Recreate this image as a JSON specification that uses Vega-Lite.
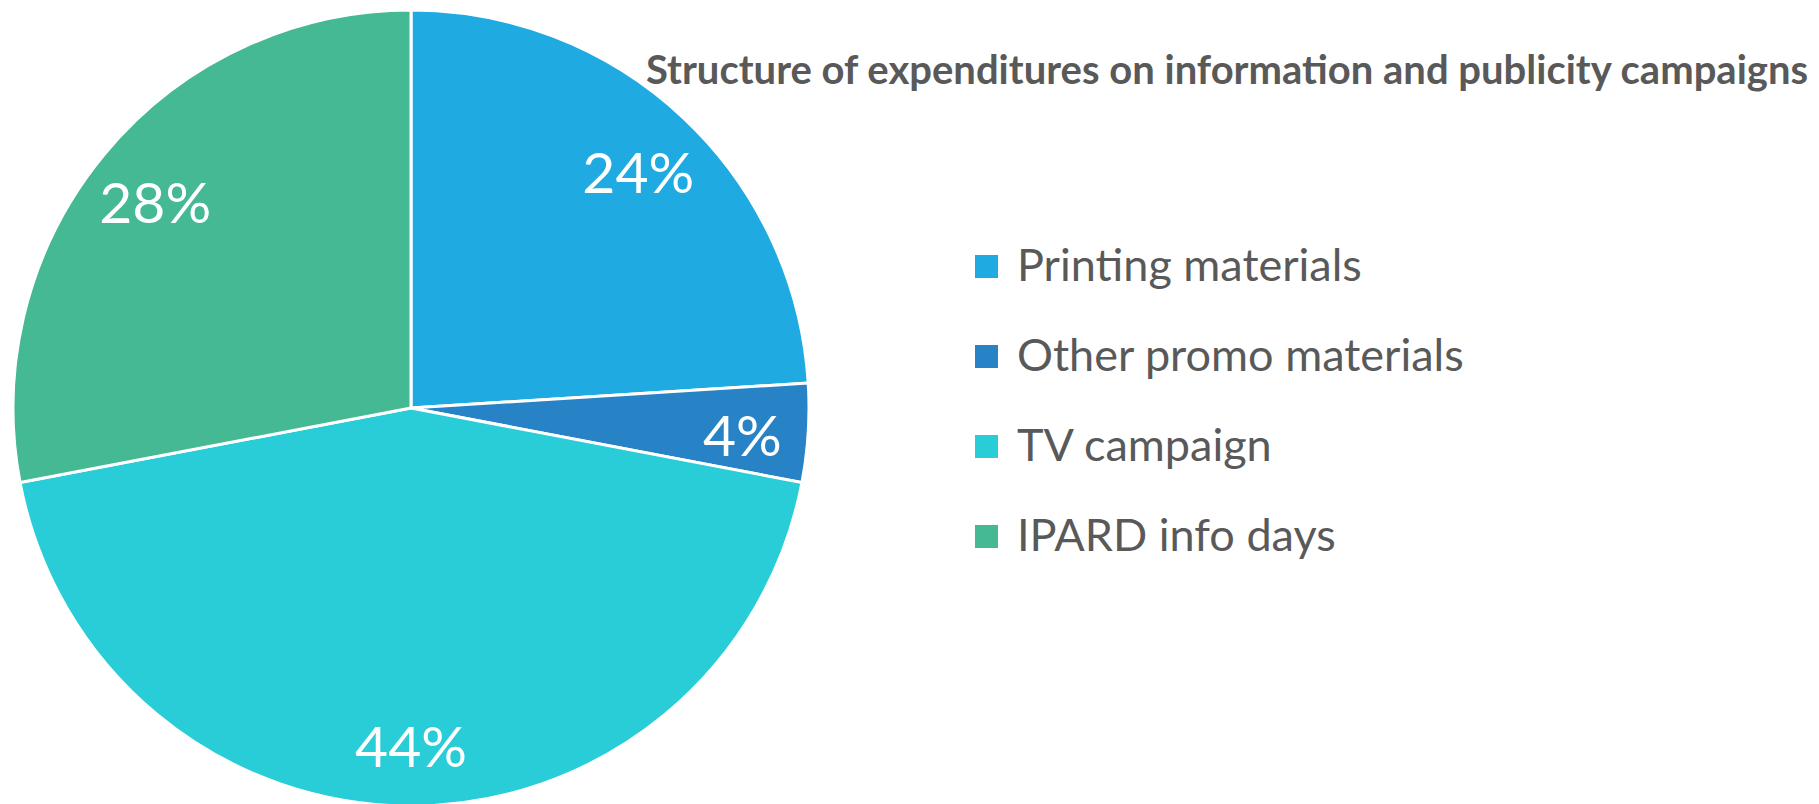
{
  "$schema": "https://vega.github.io/schema/vega-lite/v6.json",
  "width": 822,
  "height": 816,
  "autosize": {"type": "none"},
  "padding": {"left": 0, "top": 0, "right": 997, "bottom": 0},
  "background": "white",
  "title": {
    "text": "Structure of expenditures on information and publicity campaigns",
    "anchor": "start",
    "frame": "group",
    "orient": "top",
    "offset": 0,
    "dx": 646,
    "dy": 124,
    "baseline": "alphabetic",
    "font": "Lato",
    "fontSize": 40,
    "fontWeight": "bold",
    "color": "#595959"
  },
  "data": {
    "values": [
      {"category": "Printing materials", "share": 0.24, "order": 1},
      {"category": "Other promo materials", "share": 0.04, "order": 2},
      {"category": "TV campaign", "share": 0.44, "order": 3},
      {"category": "IPARD info days", "share": 0.28, "order": 4}
    ]
  },
  "encoding": {
    "theta": {"field": "share", "type": "quantitative", "stack": true},
    "order": {"field": "order", "type": "quantitative"}
  },
  "layer": [
    {
      "mark": {"type": "arc", "outerRadius": 398, "stroke": "white", "strokeWidth": 3},
      "encoding": {
        "color": {
          "field": "category",
          "type": "nominal",
          "scale": {
            "domain": ["Printing materials", "Other promo materials", "TV campaign", "IPARD info days"],
            "range": ["#1FABE2", "#2882C6", "#28CDD8", "#44B994"]
          },
          "legend": {
            "title": null,
            "orient": "none",
            "legendX": 964,
            "legendY": 244,
            "padding": 0,
            "symbolType": "square",
            "symbolSize": 529,
            "symbolStrokeWidth": 0,
            "labelFont": "Lato",
            "labelFontSize": 45,
            "labelColor": "#595959",
            "labelOffset": 8,
            "rowPadding": 44,
            "labelLimit": 800
          }
        }
      }
    },
    {
      "mark": {"type": "text", "radius": 332, "dy": 10, "font": "Lato", "fontSize": 57, "color": "white", "align": "center", "baseline": "middle"},
      "encoding": {
        "text": {"field": "share", "type": "quantitative", "format": ".0%"}
      }
    }
  ]
}
